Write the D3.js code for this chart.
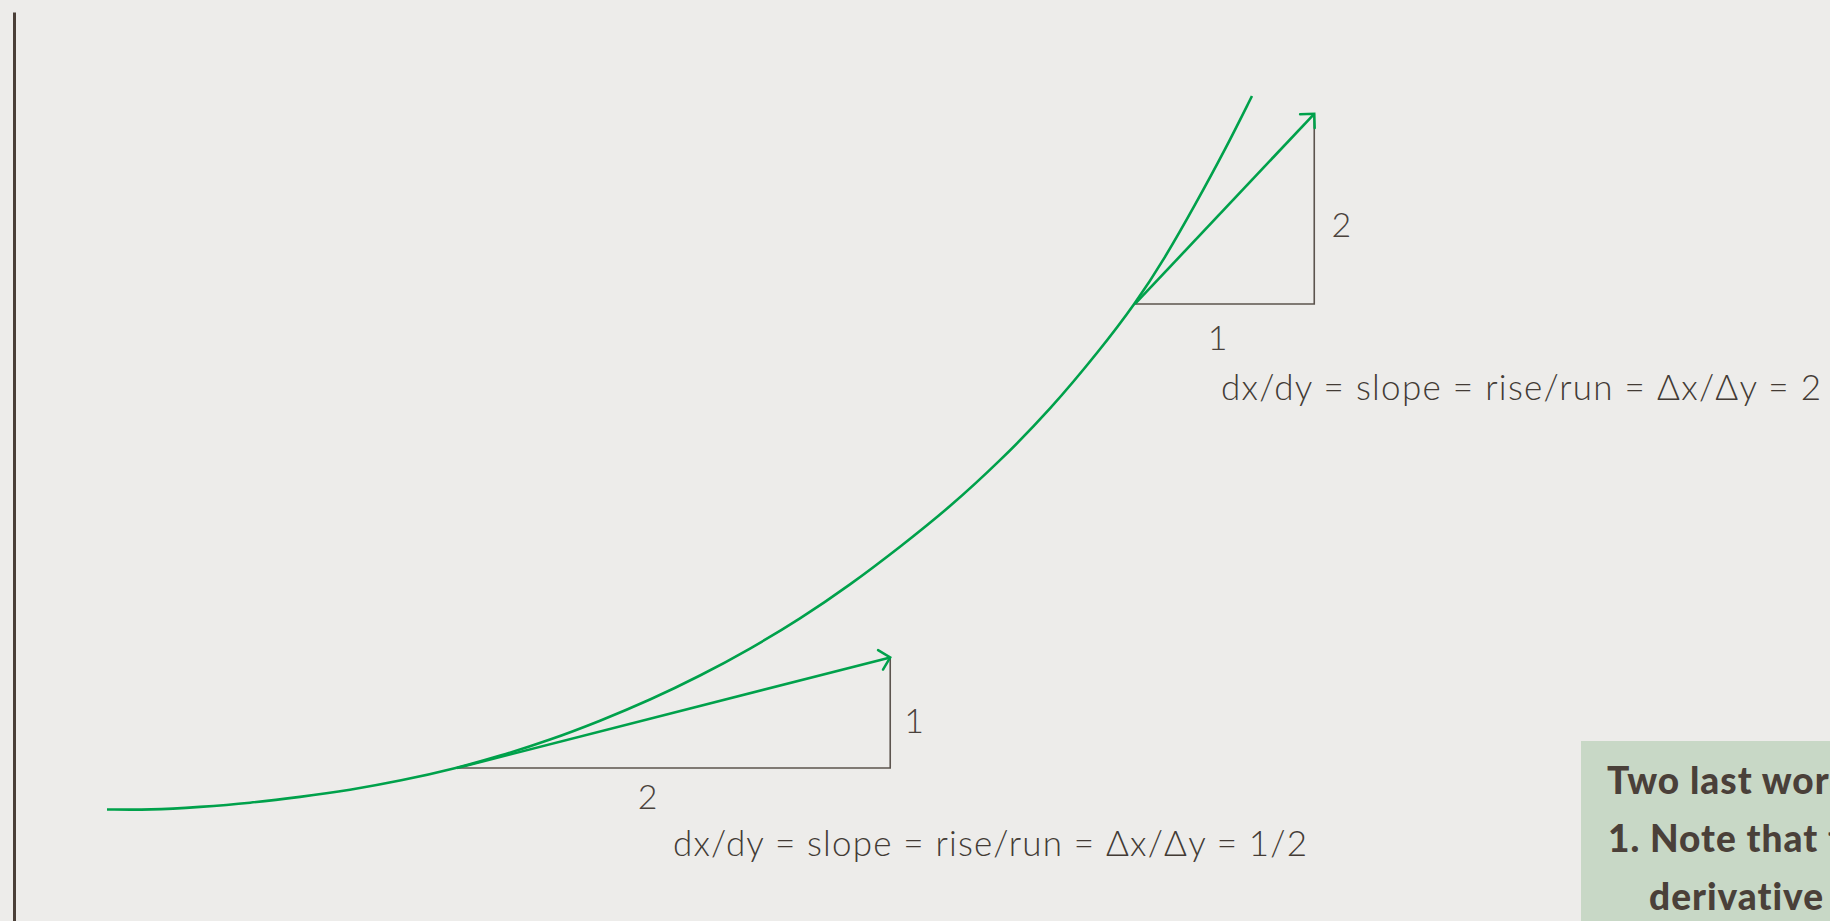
<!DOCTYPE html>
<html>
<head>
<meta charset="utf-8">
<script src="https://cdn.jsdelivr.net/npm/d3@7"></script>
<style>
  html, body { margin: 0; padding: 0; background: #edecea; overflow: hidden; }
  svg { display: block; }
</style>
</head>
<body>
<svg id="chart" width="1830" height="921"></svg>
<script>
// ---- data (abstract units) ----
const curveX = [1.024, 1.498, 2.048, 2.599, 3.150, 3.700, 4.251, 4.879, 5.352, 5.903, 6.454, 7.004, 7.555,
                8.106, 8.656, 9.207, 9.758, 10.308, 10.859, 11.410, 11.960, 12.346, 12.676, 13.007, 13.337, 13.634];
const curveY = [1.227, 1.221, 1.254, 1.298, 1.364, 1.441, 1.540, 1.683, 1.815, 1.991, 2.200, 2.431, 2.695,
                2.992, 3.322, 3.696, 4.114, 4.554, 5.061, 5.622, 6.282, 6.788, 7.294, 7.877, 8.482, 9.076];

// tangent segments: start (on the curve) and arrow tip
const tangentNames = ["lower", "upper"];
const tangentX0 = [4.879, 12.346];
const tangentY0 = [1.683, 6.788];
const tangentX1 = [9.65, 14.32];
const tangentY1 = [2.90, 8.88];
const runLabels = ["2", "1"];
const riseLabels = ["1", "2"];
const equations = [
  "dx/dy = slope = rise/run = \u0394x/\u0394y = 1/2",
  "dx/dy = slope = rise/run = \u0394x/\u0394y = 2"
];
const noteLines = ["Two last words:", "1. Note that the", "derivative"];

// ---- layout ----
const W = 1830, H = 921;
const svg = d3.select("#chart");
svg.append("rect").attr("width", W).attr("height", H).attr("fill", "#edecea");

const x = d3.scaleLinear().domain([0, 20]).range([14, 1830]);
const y = d3.scaleLinear().domain([0, 10]).range([921, 12]);

const GREEN = "#00a14b";
const INK = "#4a423c";
const LEG = "#5c544e";
const FONT = "Lato, 'Open Sans', 'DejaVu Sans', sans-serif";

// vertical axis line
const yAxis = d3.axisLeft(y).ticks(0).tickSize(0);
const ax = svg.append("g").attr("transform", `translate(${x(0)},0)`).call(yAxis);
ax.select(".domain").attr("stroke", "#4a3f38").attr("stroke-width", 3);
ax.selectAll("text").remove();

// arrow marker
const defs = svg.append("defs");
defs.append("marker")
  .attr("id", "chev")
  .attr("markerUnits", "userSpaceOnUse")
  .attr("viewBox", "-14 -12 16 24")
  .attr("markerWidth", 16).attr("markerHeight", 24)
  .attr("refX", 0).attr("refY", 0)
  .attr("orient", "auto")
  .append("path")
  .attr("d", "M-10,-10 L0,0 L-10,10")
  .attr("fill", "none")
  .attr("stroke", GREEN)
  .attr("stroke-width", 2.5)
  .attr("stroke-linecap", "round")
  .attr("stroke-linejoin", "miter");

// curve
const pts = curveX.map((v, i) => [v, curveY[i]]);
const line = d3.line().x(d => x(d[0])).y(d => y(d[1])).curve(d3.curveBasis);
svg.append("path")
  .attr("d", line(pts))
  .attr("fill", "none")
  .attr("stroke", GREEN)
  .attr("stroke-width", 2.6)
  .attr("stroke-linecap", "butt");

// tangents + triangles
const tangents = tangentNames.map((n, i) => ({
  name: n, x0: tangentX0[i], y0: tangentY0[i], x1: tangentX1[i], y1: tangentY1[i],
  run: runLabels[i], rise: riseLabels[i], eq: equations[i]
}));

const g = svg.append("g");
tangents.forEach((t, i) => {
  // triangle legs
  g.append("path")
    .attr("d", `M${x(t.x0)},${y(t.y0)} L${x(t.x1)},${y(t.y0)} L${x(t.x1)},${y(t.y1)}`)
    .attr("fill", "none")
    .attr("stroke", LEG)
    .attr("stroke-width", 1.6);
  // tangent arrow
  g.append("line")
    .attr("x1", x(t.x0)).attr("y1", y(t.y0))
    .attr("x2", x(t.x1)).attr("y2", y(t.y1))
    .attr("stroke", GREEN)
    .attr("stroke-width", 2.6)
    .attr("marker-end", "url(#chev)");

  const midX = (x(t.x0) + x(t.x1)) / 2;
  const midY = (y(t.y0) + y(t.y1)) / 2;
  // run label (below horizontal leg)
  g.append("text")
    .attr("x", midX + (i === 0 ? -26 : -7))
    .attr("y", y(t.y0) + (i === 0 ? 41 : 46))
    .attr("text-anchor", "middle")
    .attr("font-family", FONT).attr("font-weight", 300)
    .attr("font-size", 34).attr("fill", INK)
    .text(t.run);
  // rise label (right of vertical leg)
  g.append("text")
    .attr("x", x(t.x1) + (i === 0 ? 24 : 27))
    .attr("y", midY + (i === 0 ? 20 : 28))
    .attr("text-anchor", "middle")
    .attr("font-family", FONT).attr("font-weight", 300)
    .attr("font-size", 34).attr("fill", INK)
    .text(t.rise);
  // equation
  g.append("text")
    .attr("x", i === 0 ? x(t.x0) + 216 : x(t.x0) + 86)
    .attr("y", i === 0 ? y(t.y0) + 88 : y(t.y0) + 96)
    .attr("font-family", FONT).attr("font-weight", 300)
    .attr("font-size", 35).attr("fill", "#433b35")
    .attr("textLength", i === 0 ? 634 : 600)
    .attr("lengthAdjust", "spacing")
    .text(t.eq);
});

// note box (cut off at the right / bottom edge, as in the original slide)
const box = svg.append("g");
box.append("rect")
  .attr("x", 1581).attr("y", 741)
  .attr("width", 300).attr("height", 220)
  .attr("fill", "#c8d8c6");
const noteX = [1607, 1608, 1649];
box.selectAll("text.note").data(noteLines).enter().append("text")
  .attr("class", "note")
  .attr("x", (d, i) => noteX[i])
  .attr("y", (d, i) => 794 + i * 58)
  .attr("font-family", FONT).attr("font-weight", 900)
  .attr("font-size", 37).attr("fill", "#4a4039")
  .attr("letter-spacing", 1.0)
  .text(d => d);
</script>
</body>
</html>
